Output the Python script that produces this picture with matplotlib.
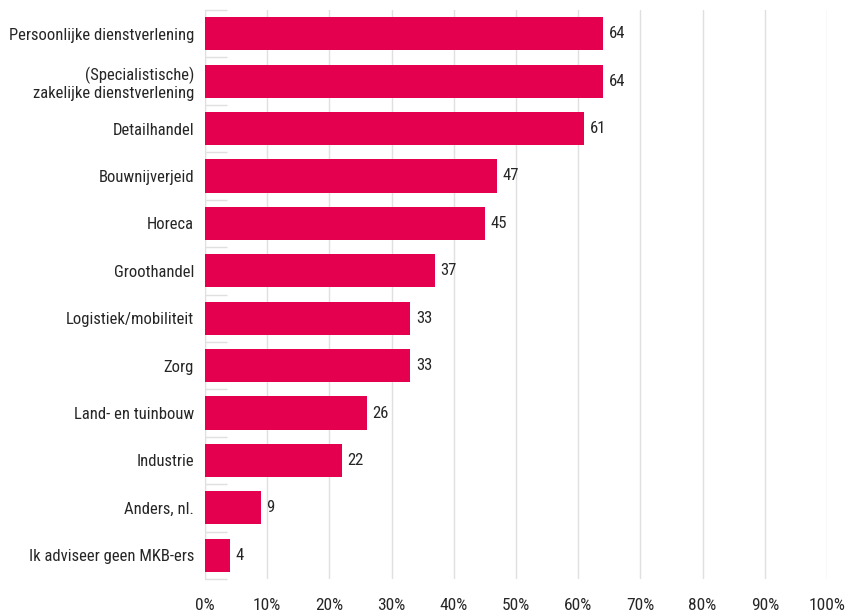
import matplotlib
matplotlib.use("Agg")
import matplotlib.pyplot as plt
from matplotlib.ticker import FixedLocator
from matplotlib import font_manager

categories = [
    "Persoonlijke dienstverlening",
    "(Specialistische)\nzakelijke dienstverlening",
    "Detailhandel",
    "Bouwnijverjeid",
    "Horeca",
    "Groothandel",
    "Logistiek/mobiliteit",
    "Zorg",
    "Land- en tuinbouw",
    "Industrie",
    "Anders, nl.",
    "Ik adviseer geen MKB-ers",
]
values = [64, 64, 61, 47, 45, 37, 33, 33, 26, 22, 9, 4]
xticks = [0, 10, 20, 30, 40, 50, 60, 70, 80, 90, 100]
xticklabels = [f"{t}%" for t in xticks]

names = {f.name for f in font_manager.fontManager.ttflist}
fams = [f for f in ['Roboto Condensed', 'Open Sans Condensed', 'Liberation Sans Narrow', 'DejaVu Sans'] if f in names]
plt.rcParams['font.family'] = fams
plt.rcParams['font.stretch'] = 'condensed'

fig = plt.figure(figsize=(8.63, 6.16), dpi=100)
ax = fig.add_axes([205/863, 1-579/616, (827-205)/863, (579-10)/616])

n = len(categories)
ypos = list(range(n))
ax.barh(ypos, values, height=0.7, color="#E4004F", zorder=3)
for y, v in zip(ypos, values):
    ax.text(v + 0.9, y, str(v), va="center", ha="left", fontsize=12, color="#262626")

ax.set_xlim(0, 100)
ax.set_ylim(n - 0.5, -0.5)
ax.set_xticks(xticks)
ax.set_xticklabels(xticklabels, fontsize=12.5, color="#262626")
ax.set_yticks(ypos)
ax.set_yticklabels(categories, fontsize=12, color="#262626", linespacing=1.15)
ax.tick_params(axis='y', length=0, pad=8)
ax.tick_params(axis='x', length=0, pad=14)
ax.yaxis.set_minor_locator(FixedLocator([i - 0.5 for i in range(n + 1)]))
ax.tick_params(axis='y', which='minor', direction='in', length=16, color="#e0e0e0", width=1)

ax.grid(axis='x', color="#e0e0e0", linewidth=1, zorder=0)
for s in ['top', 'right', 'bottom']:
    ax.spines[s].set_visible(False)
ax.spines['left'].set_color("#e0e0e0")

fig.savefig("out.png", dpi=100)
